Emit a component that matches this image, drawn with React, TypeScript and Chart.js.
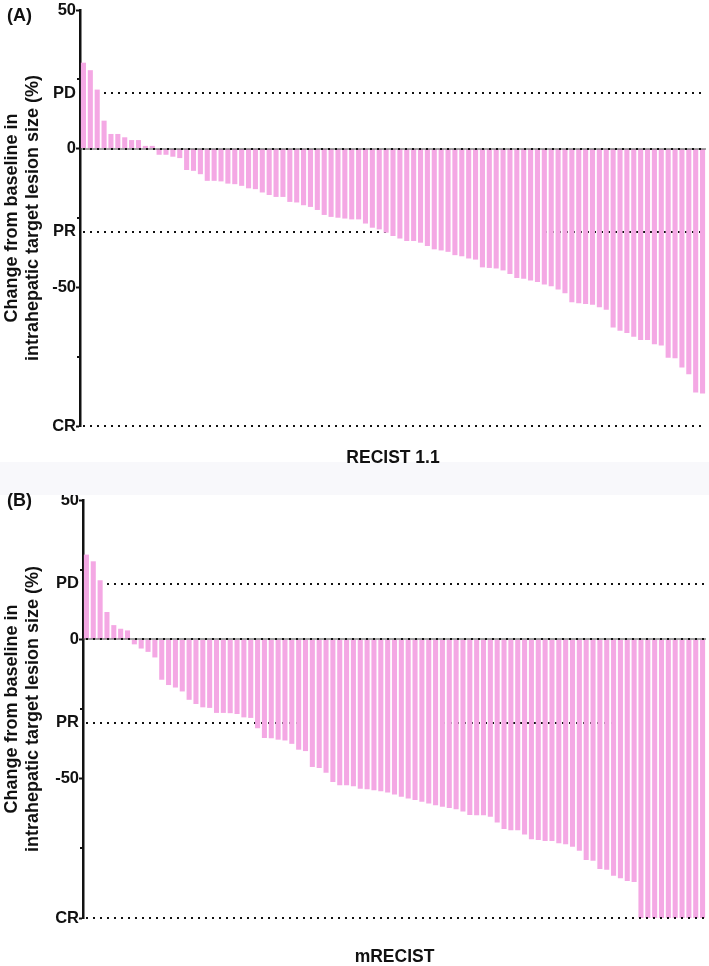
import React, { useEffect, useRef } from 'react';
import { Chart, registerables } from 'chart.js';

Chart.register(...registerables);

// % change from baseline per patient, sorted (waterfall)
const recistChange = [
  31, 28.3, 21.3, 10.1, 5.3, 5.3, 4.1, 3.1, 3.1, 1, 1, -2.2, -2.2, -2.9, -3.4,
  -7.7, -8, -9.2, -11.6, -11.6, -11.8, -12.6, -12.8, -13.4, -14.3, -14.6, -15.8,
  -16.7, -17.4, -17.4, -19.2, -19.4, -20.4, -21, -22.1, -23.9, -24.6, -24.9,
  -25.2, -25.5, -25.5, -27, -28.5, -29.1, -30.3, -31.5, -32.4, -33.3, -33.3,
  -33.9, -35.1, -36.3, -36.7, -37.2, -38.4, -38.8, -39.6, -40, -42.8, -43,
  -43.2, -43.9, -45.2, -46.6, -46.9, -47.5, -48.1, -49, -49.6, -50.8, -52.1,
  -55.4, -55.7, -56, -56.3, -57.2, -58.1, -64.5, -65.7, -66.5, -67.8, -69, -69,
  -70.5, -71, -75.4, -75.6, -78.9, -81.3, -87.9, -88.3,
];

const mrecistChange = [
  30.4, 28, 21.2, 9.8, 5.1, 3.8, 3.2, -1.8, -3.3, -4.5, -6.5, -14.5, -16.4,
  -17.3, -18.7, -21.7, -23.2, -24.4, -24.6, -26.4, -26.4, -26.5, -26.8, -28,
  -28.2, -31.9, -35.4, -35.5, -36, -36.3, -37.5, -39.6, -40.1, -45.8, -46.2,
  -47.9, -51.2, -52.4, -52.4, -52.7, -53.6, -53.8, -54.2, -54.5, -55, -55.7,
  -56.5, -57.1, -57.7, -58.3, -58.9, -59.5, -60.1, -60.5, -61, -61.8, -63,
  -63.1, -63.1, -63.7, -65.7, -68.1, -68.5, -68.5, -70, -71.7, -72, -72.4,
  -72.4, -73.2, -73.5, -74.4, -75.9, -79.2, -79.5, -82.4, -82.7, -84.8, -85.7,
  -86.7, -87.1, -100, -100, -100, -100, -100, -100, -100, -100, -100, -100,
];

const yTickValues = [50, 25, 20, 0, -25, -30, -50, -75, -100];
const yTickLabels: Record<string, string> = {
  '50': '50', '20': 'PD', '0': '0', '-30': 'PR', '-50': '-50', '-100': 'CR',
};
const majorTicks = [50, 0, -50, -100];
const minorTicks = [25, -25, -75];
const backLevels = [20, -30]; // PD / PR, behind the bars
const frontLevels = [0, -100]; // baseline and CR, over the bars

const yTitle = ['Change from baseline in', 'intrahepatic target lesion size (%)'];
const FONT = "'Liberation Sans', Arial, Helvetica, sans-serif";
const INK = '#111111';
const PINK = '#f4a8e4';

function drawLevels(chart: Chart, levels: number[], solidBase: boolean) {
  const { ctx, chartArea, scales } = chart;
  ctx.save();
  levels.forEach((v) => {
    const y = Math.round(scales.y.getPixelForValue(v));
    if (solidBase && v === 0) {
      ctx.strokeStyle = '#444444';
      ctx.lineWidth = 1;
      ctx.setLineDash([]);
      ctx.beginPath();
      ctx.moveTo(chartArea.left, y);
      ctx.lineTo(chartArea.right, y);
      ctx.stroke();
    }
    ctx.strokeStyle = INK;
    ctx.lineWidth = 2;
    ctx.setLineDash([2, 5]);
    ctx.beginPath();
    ctx.moveTo(chartArea.left + 3, y);
    ctx.lineTo(chartArea.right, y);
    ctx.stroke();
  });
  ctx.restore();
}

const levelsPlugin = {
  id: 'levels',
  beforeDatasetsDraw(chart: Chart) {
    drawLevels(chart, backLevels, false);
  },
  afterDatasetsDraw(chart: Chart) {
    drawLevels(chart, frontLevels, true);
    // short minor ticks on the y axis
    const { ctx, chartArea, scales } = chart;
    ctx.save();
    ctx.strokeStyle = INK;
    ctx.lineWidth = 2;
    minorTicks.forEach((v) => {
      const y = Math.round(scales.y.getPixelForValue(v));
      ctx.beginPath();
      ctx.moveTo(chartArea.left - 3, y);
      ctx.lineTo(chartArea.left, y);
      ctx.stroke();
    });
    ctx.restore();
  },
};

interface WaterfallProps {
  values: number[];
  xTitle: string;
  axisWidth: number;
  padTop: number;
  xAxisHeight: number;
}

const Waterfall: React.FC<WaterfallProps> = ({ values, xTitle, axisWidth, padTop, xAxisHeight }) => {
  const chartRef = useRef<HTMLCanvasElement>(null);

  useEffect(() => {
    if (!chartRef.current) return;
    const labels = values.map((_, i) => `${i + 1}`);

    const chart = new Chart(chartRef.current, {
      type: 'bar',
      data: {
        labels,
        datasets: [
          {
            data: values,
            backgroundColor: PINK,
            borderWidth: 0,
            barPercentage: 0.74,
            categoryPercentage: 1,
          },
        ],
      },
      options: {
        animation: false,
        responsive: true,
        maintainAspectRatio: false,
        layout: { padding: { top: padTop, right: 3, bottom: 0, left: 0 } },
        plugins: {
          legend: { display: false },
          tooltip: { enabled: false },
        },
        scales: {
          x: {
            offset: true,
            grid: { display: false },
            border: { display: false },
            ticks: { display: false },
            title: {
              display: true,
              text: xTitle,
              color: INK,
              padding: 0,
              font: { family: FONT, size: 17.5, weight: 'bold' },
            },
            afterFit: (scale: any) => {
              scale.height = xAxisHeight;
            },
          },
          y: {
            min: -100,
            max: 50,
            afterBuildTicks: (scale: any) => {
              scale.ticks = yTickValues.map((value) => ({ value }));
            },
            afterFit: (scale: any) => {
              scale.width = axisWidth;
              scale.paddingTop = 0;
              scale.paddingBottom = 0;
            },
            border: { display: true, color: INK, width: 2.5 },
            grid: {
              drawOnChartArea: false,
              drawTicks: true,
              tickLength: 4,
              tickWidth: 2,
              tickColor: (c: any) =>
                c.tick && majorTicks.includes(c.tick.value) ? INK : 'rgba(0,0,0,0)',
            },
            ticks: {
              autoSkip: false,
              padding: 0,
              color: INK,
              font: { family: FONT, size: 16.5, weight: 'bold' },
              callback: (value: any) => yTickLabels[String(value)] ?? '',
            },
            title: {
              display: true,
              text: yTitle,
              color: INK,
              padding: { top: 1, bottom: 0 },
              font: { family: FONT, size: 18, weight: 'bold' },
            },
          },
        },
      },
      plugins: [levelsPlugin],
    });

    return () => {
      chart.destroy();
    };
  }, [values, xTitle, axisWidth, padTop, xAxisHeight]);

  return <canvas ref={chartRef}></canvas>;
};

const panelLabel: React.CSSProperties = {
  position: 'absolute',
  left: 7,
  fontFamily: FONT,
  fontWeight: 'bold',
  fontSize: 18,
  lineHeight: '18px',
  color: INK,
};

export default function App() {
  return (
    <div style={{ position: 'relative', width: 709, height: 966, background: '#ffffff', overflow: 'hidden' }}>
      <style>{'body { margin: 0; }'}</style>
      <div style={{ position: 'absolute', top: 462, left: 0, width: 709, height: 33, background: '#f8f8fb' }} />
      <div style={{ position: 'absolute', top: 0, left: 0, width: 709, height: 469 }}>
        <Waterfall values={recistChange} xTitle="RECIST 1.1" axisWidth={80} padTop={10} xAxisHeight={43} />
      </div>
      <div style={{ position: 'absolute', top: 495, left: 0, width: 709, height: 473 }}>
        <Waterfall values={mrecistChange} xTitle="mRECIST" axisWidth={83} padTop={5} xAxisHeight={50} />
      </div>
      <div style={{ ...panelLabel, top: 6 }}>(A)</div>
      <div style={{ ...panelLabel, top: 491 }}>(B)</div>
    </div>
  );
}
